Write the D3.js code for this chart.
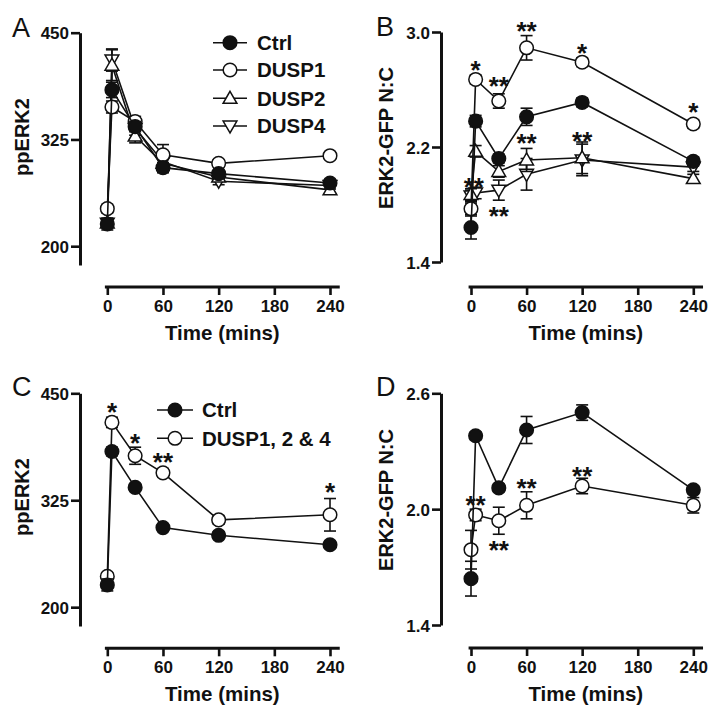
<!DOCTYPE html>
<html>
<head>
<meta charset="utf-8">
<script src="https://cdn.jsdelivr.net/npm/d3@7/dist/d3.min.js"></script>
<style>
  html, body { margin: 0; padding: 0; background: #fff; }
  svg { display: block; font-family: "Liberation Sans", Arial, Helvetica, sans-serif; }
</style>
</head>
<body>
<svg id="chart" width="719" height="727"></svg>
<script>
// ---------------- DATA ----------------
const timeMins = [0, 5, 30, 60, 120, 240];
const timeTicks = [0, 60, 120, 180, 240];
const ppErkTicks = [200, 325, 450];
const ratioTicksB = [1.4, 2.2, 3.0];
const ratioTicksD = [1.4, 2.0, 2.6];

// Panel A: ppERK2
const ppErkCtrlA = [226, 383, 340, 292, 285, 274];
const ppErkCtrlAErr = [7, 9, 6, 6, 4, 4];
const ppErkDusp1A = [244, 363, 346, 307, 297, 306];
const ppErkDusp1AErr = [5, 7, 6, 12, 4, 4];
const ppErkDusp2A = [227, 412, 329, 297, 281, 266];
const ppErkDusp2AErr = [5, 18, 8, 6, 5, 4];
const ppErkDusp4A = [227, 418, 338, 299, 276, 271];
const ppErkDusp4AErr = [5, 13, 8, 6, 4, 4];

// Panel B: ERK2-GFP N:C
const ratioCtrlB = [1.64, 2.38, 2.12, 2.41, 2.51, 2.10];
const ratioCtrlBErr = [0.08, 0.04, 0.03, 0.06, 0.03, 0.03];
const ratioDusp1B = [1.77, 2.67, 2.52, 2.89, 2.79, 2.36];
const ratioDusp1BErr = [0.04, 0.03, 0.05, 0.085, 0.03, 0.03];
const ratioDusp2B = [1.87, 2.17, 2.03, 2.11, 2.125, 1.98];
const ratioDusp2BErr = [0.04, 0.04, 0.04, 0.08, 0.11, 0.03];
const ratioDusp4B = [1.86, 1.88, 1.90, 2.01, 2.11, 2.06];
const ratioDusp4BErr = [0.04, 0.04, 0.07, 0.11, 0.11, 0.03];

// Panel C: ppERK2
const ppErkCtrlC = [226, 382, 340, 293, 284, 273];
const ppErkCtrlCErr = [7, 5, 4, 4, 4, 4];
const ppErkDuspC = [236, 416, 377, 357, 302, 308];
const ppErkDuspCErr = [4, 6, 10, 5, 5, 19];

// Panel D: ERK2-GFP N:C
const ratioCtrlD = [1.64, 2.38, 2.11, 2.41, 2.50, 2.10];
const ratioCtrlDErr = [0.09, 0.02, 0.02, 0.07, 0.04, 0.02];
const ratioDuspD = [1.79, 1.97, 1.94, 2.02, 2.12, 2.02];
const ratioDuspDErr = [0.10, 0.03, 0.07, 0.07, 0.04, 0.04];

// Significance marks (time, level in data units, label)
const sigB = [
  {t: 5, v: 2.77, s: "*"}, {t: 30, v: 2.66, s: "**"}, {t: 60, v: 3.04, s: "**"},
  {t: 120, v: 2.89, s: "*"}, {t: 240, v: 2.48, s: "*"}, {t: 60, v: 2.26, s: "**"},
  {t: 120, v: 2.28, s: "**"}, {t: 3, v: 1.96, s: "**"}, {t: 30, v: 1.755, s: "**"}
];
const sigC = [
  {t: 5, v: 434, s: "*"}, {t: 30, v: 398, s: "*"}, {t: 60, v: 375, s: "**"}, {t: 240, v: 340, s: "*"}
];
const sigD = [
  {t: 5, v: 2.048, s: "**"}, {t: 30, v: 1.815, s: "**"}, {t: 60, v: 2.133, s: "**"}, {t: 120, v: 2.2, s: "**"}
];

const legendA = ["Ctrl", "DUSP1", "DUSP2", "DUSP4"];
const legendC = ["Ctrl", "DUSP1, 2 & 4"];

// ---------------- DRAWING ----------------
const svg = d3.select("#chart");
const INK = "#111";

function drawMarker(g, type, cx, cy) {
  if (type === "filled" || type === "open") {
    g.append("circle").attr("cx", cx).attr("cy", cy).attr("r", 6.8)
      .attr("fill", type === "filled" ? INK : "#fff")
      .attr("stroke", INK).attr("stroke-width", 1.5);
  } else {
    const sym = d3.symbol().type(d3.symbolTriangle).size(82);
    g.append("path").attr("d", sym())
      .attr("transform", `translate(${cx},${cy + (type === "up" ? 1 : -1)}) rotate(${type === "up" ? 0 : 180})`)
      .attr("fill", "#fff").attr("stroke", INK).attr("stroke-width", 1.5);
  }
}

function drawPanel(cfg) {
  const g = svg.append("g");
  const x = d3.scaleLinear().domain([0, 240]).range([cfg.xStart, cfg.xEnd]);
  const y = d3.scaleLinear().domain(cfg.yDomain).range(cfg.yRange);

  // Y axis
  const yAxis = d3.axisLeft(y).tickValues(cfg.yTicks).tickSize(9).tickSizeOuter(0).tickPadding(2)
    .tickFormat(cfg.yFormat);
  const ya = g.append("g").attr("transform", `translate(${cfg.yAxisX},0)`).call(yAxis);
  ya.select(".domain").attr("stroke", INK).attr("stroke-width", 3);
  ya.selectAll(".tick line").attr("stroke", INK).attr("stroke-width", 2.6);
  ya.selectAll(".tick text").attr("fill", INK).attr("font-size", 17).attr("font-weight", "bold")
    .attr("font-family", "Liberation Sans, Arial, sans-serif").attr("dy", "0.36em");

  // X axis
  const xAxis = d3.axisBottom(x).tickValues(timeTicks).tickSize(8).tickSizeOuter(0).tickPadding(5);
  const xa = g.append("g").attr("transform", `translate(0,${cfg.xAxisY})`).call(xAxis);
  xa.select(".domain").remove();
  xa.append("line").attr("x1", x(-2.6)).attr("x2", x(250.5)).attr("y1", 0).attr("y2", 0)
    .attr("stroke", INK).attr("stroke-width", 3);
  xa.selectAll(".tick line").attr("stroke", INK).attr("stroke-width", 2.6);
  xa.selectAll(".tick text").attr("fill", INK).attr("font-size", 17).attr("font-weight", "bold")
    .attr("font-family", "Liberation Sans, Arial, sans-serif");

  // Axis titles
  g.append("text").attr("x", (x(-2.6) + x(250.5)) / 2).attr("y", cfg.xAxisY + 53)
    .attr("text-anchor", "middle").attr("font-size", 20.5).attr("font-weight", "bold").attr("fill", INK)
    .text("Time (mins)");
  g.append("text").attr("transform", `translate(${cfg.yTitleX},${cfg.yTitleY}) rotate(-90)`)
    .attr("text-anchor", "middle").attr("font-size", 20).attr("font-weight", "bold").attr("fill", INK)
    .text(cfg.yTitle);

  // Panel letter
  g.append("text").attr("x", cfg.letterX).attr("y", cfg.letterY).attr("font-size", 27)
    .attr("fill", INK).text(cfg.letter);

  // Series (drawn in given order; last on top)
  const line = d3.line().x((d, i) => x(timeMins[i])).y(d => y(d));
  cfg.series.forEach(s => {
    const sg = g.append("g");
    sg.append("path").attr("d", line(s.values)).attr("fill", "none")
      .attr("stroke", INK).attr("stroke-width", 1.6);
    s.values.forEach((v, i) => {
      const e = s.err[i];
      const cx = x(timeMins[i]);
      sg.append("line").attr("x1", cx).attr("x2", cx).attr("y1", y(v - e)).attr("y2", y(v + e))
        .attr("stroke", INK).attr("stroke-width", 1.6);
      [v - e, v + e].forEach(w => {
        sg.append("line").attr("x1", cx - 6).attr("x2", cx + 6).attr("y1", y(w)).attr("y2", y(w))
          .attr("stroke", INK).attr("stroke-width", 1.6);
      });
    });
    s.values.forEach((v, i) => drawMarker(sg, s.marker, x(timeMins[i]), y(v)));
  });

  // Significance
  (cfg.sig || []).forEach(m => {
    g.append("text").attr("x", x(m.t)).attr("y", y(m.v) + 14).attr("text-anchor", "middle")
      .attr("font-size", 26).attr("font-weight", "bold").attr("fill", INK).text(m.s);
  });

  // Legend
  if (cfg.legend) {
    cfg.legend.labels.forEach((lab, i) => {
      const ly = cfg.legend.rows[i];
      g.append("line").attr("x1", cfg.legend.x1).attr("x2", cfg.legend.x2).attr("y1", ly).attr("y2", ly)
        .attr("stroke", INK).attr("stroke-width", 1.6);
      drawMarker(g, cfg.legend.markers[i], (cfg.legend.x1 + cfg.legend.x2) / 2, ly);
      g.append("text").attr("x", cfg.legend.tx).attr("y", ly).attr("dy", "0.36em")
        .attr("font-size", 20.5).attr("font-weight", "bold").attr("fill", INK).text(lab);
    });
  }
}

const fmtInt = d3.format("d");
const fmt1 = d3.format(".1f");

drawPanel({
  letter: "A", letterX: 12, letterY: 37,
  yAxisX: 80, yDomain: [178, 450], yRange: [265, 32.7], yTicks: ppErkTicks, yFormat: fmtInt,
  xStart: 107.3, xEnd: 330, xAxisY: 287,
  yTitle: "ppERK2", yTitleX: 28.5, yTitleY: 137,
  series: [
    {values: ppErkDusp4A, err: ppErkDusp4AErr, marker: "down"},
    {values: ppErkDusp2A, err: ppErkDusp2AErr, marker: "up"},
    {values: ppErkDusp1A, err: ppErkDusp1AErr, marker: "open"},
    {values: ppErkCtrlA, err: ppErkCtrlAErr, marker: "filled"}
  ],
  legend: {labels: legendA, markers: ["filled", "open", "up", "down"],
    rows: [42.7, 70, 98.3, 126], x1: 213, x2: 247, tx: 257}
});

drawPanel({
  letter: "B", letterX: 376, letterY: 36,
  yAxisX: 441, yDomain: [1.4, 3.0], yRange: [262, 32], yTicks: ratioTicksB, yFormat: fmt1,
  xStart: 471, xEnd: 693.3, xAxisY: 287,
  yTitle: "ERK2-GFP N:C", yTitleX: 393, yTitleY: 138,
  series: [
    {values: ratioDusp4B, err: ratioDusp4BErr, marker: "down"},
    {values: ratioDusp2B, err: ratioDusp2BErr, marker: "up"},
    {values: ratioDusp1B, err: ratioDusp1BErr, marker: "open"},
    {values: ratioCtrlB, err: ratioCtrlBErr, marker: "filled"}
  ],
  sig: sigB
});

drawPanel({
  letter: "C", letterX: 12, letterY: 396,
  yAxisX: 80, yDomain: [178, 450], yRange: [626, 393.3], yTicks: ppErkTicks, yFormat: fmtInt,
  xStart: 107.3, xEnd: 330, xAxisY: 648.3,
  yTitle: "ppERK2", yTitleX: 28.5, yTitleY: 497,
  series: [
    {values: ppErkDuspC, err: ppErkDuspCErr, marker: "open"},
    {values: ppErkCtrlC, err: ppErkCtrlCErr, marker: "filled"}
  ],
  sig: sigC,
  legend: {labels: legendC, markers: ["filled", "open"],
    rows: [410, 438.3], x1: 157, x2: 193, tx: 202}
});

drawPanel({
  letter: "D", letterX: 376, letterY: 396,
  yAxisX: 441, yDomain: [1.4, 2.6], yRange: [625, 393.3], yTicks: ratioTicksD, yFormat: fmt1,
  xStart: 471, xEnd: 693.3, xAxisY: 648,
  yTitle: "ERK2-GFP N:C", yTitleX: 393, yTitleY: 500,
  series: [
    {values: ratioDuspD, err: ratioDuspDErr, marker: "open"},
    {values: ratioCtrlD, err: ratioCtrlDErr, marker: "filled"}
  ],
  sig: sigD
});
</script>
</body>
</html>
